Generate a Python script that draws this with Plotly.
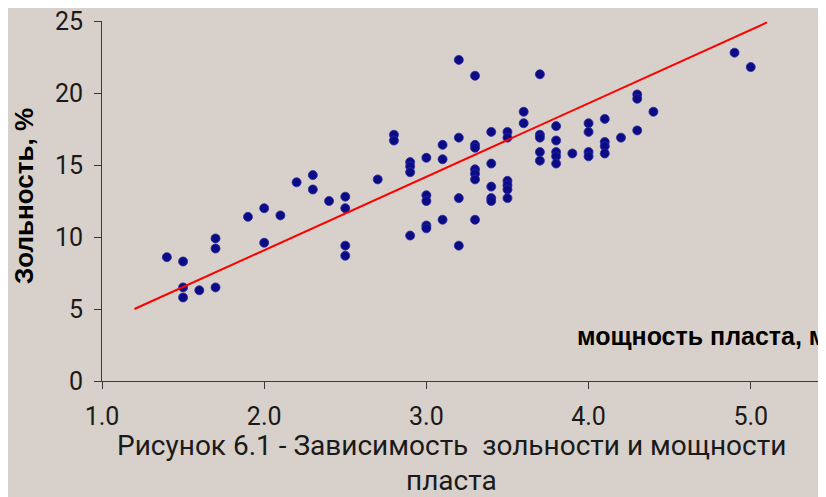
import plotly.graph_objects as go

# thickness (m) per column and ash content (%) values
thickness = (
    [1.4] + [1.5] * 3 + [1.6] + [1.7] * 3 + [1.9] + [2.0] * 2 + [2.1] + [2.2] + [2.3] * 2 + [2.4]
    + [2.5] * 4 + [2.7] + [2.8] * 2 + [2.9] * 4 + [3.0] * 5 + [3.1] * 3 + [3.2] * 4 + [3.3] * 7
    + [3.4] * 5 + [3.5] * 6 + [3.6] * 2 + [3.7] * 5 + [3.8] * 5 + [3.9] + [4.0] * 4 + [4.1] * 4
    + [4.2] + [4.3] * 3 + [4.4] + [4.9] + [5.0]
)
ash = [
    8.6,
    8.3, 6.5, 5.8,
    6.3,
    9.9, 9.2, 6.5,
    11.4,
    12.0, 9.6,
    11.5,
    13.8,
    14.3, 13.3,
    12.5,
    12.8, 12.0, 9.4, 8.7,
    14.0,
    17.1, 16.7,
    15.2, 14.9, 14.5, 10.1,
    15.5, 12.9, 12.5, 10.8, 10.6,
    16.4, 15.4, 11.2,
    22.3, 16.9, 12.7, 9.4,
    21.2, 16.4, 16.2, 14.7, 14.4, 14.0, 11.2,
    17.3, 15.1, 13.5, 12.7, 12.5,
    17.3, 16.9, 13.9, 13.6, 13.3, 12.7,
    18.7, 17.9,
    21.3, 17.1, 16.9, 15.9, 15.3,
    17.7, 16.7, 15.9, 15.6, 15.1,
    15.8,
    17.9, 17.3, 15.9, 15.6,
    18.2, 16.6, 16.3, 15.8,
    16.9,
    19.9, 19.6, 17.4,
    18.7,
    22.8,
    21.8,
]

trend_x = [1.2, 5.1]
trend_y = [5.0, 24.9]

x_ticks = [1.0, 2.0, 3.0, 4.0, 5.0]
y_ticks = [0, 5, 10, 15, 20, 25]

bg = "#D8D0CA"
axis_col = "#3a3a3a"

# page body has an 8px default margin; figure is sized to fill the rest
OFF = 8
FW, FH = 826 - OFF, 497 - OFF
L, T, W, H = 102 - OFF, 21 - OFF, 724, 360


def px(xp):
    return (xp - OFF - L) / W


def py(yp):
    return (T + H - (yp - OFF)) / H


fig = go.Figure()
fig.add_trace(go.Scatter(
    x=thickness, y=ash, mode="markers",
    marker=dict(size=9, color="#0B0B86", line=dict(width=0.8, color="#2a2aa0")),
    showlegend=False, cliponaxis=False,
))
fig.add_trace(go.Scatter(
    x=trend_x, y=trend_y, mode="lines",
    line=dict(color="#FF0000", width=2),
    showlegend=False,
))

fig.update_layout(
    width=FW, height=FH,
    margin=dict(l=L, r=FW - L - W, t=T, b=FH - T - H, autoexpand=False),
    paper_bgcolor=bg, plot_bgcolor=bg,
    font=dict(family="Roboto", color="#1a1a1a"),
    xaxis=dict(
        range=[1.0, 5.464], tickvals=x_ticks, ticktext=[f"{v:.1f}" for v in x_ticks],
        showgrid=False, zeroline=False, showline=True, linecolor=axis_col, linewidth=1,
        ticks="outside", ticklen=7, tickcolor=axis_col, tickwidth=1,
        tickfont=dict(family="Roboto", size=25, color="#1a1a1a"),
        ticklabelstandoff=6, automargin=False, ticklabeloverflow="allow",
    ),
    yaxis=dict(
        range=[0, 25], tickvals=y_ticks,
        showgrid=False, zeroline=False, showline=True, linecolor=axis_col, linewidth=1,
        ticks="outside", ticklen=7, tickcolor=axis_col, tickwidth=1,
        tickfont=dict(family="Roboto", size=25, color="#1a1a1a"),
        ticklabelstandoff=6, automargin=False, ticklabeloverflow="allow",
    ),
    annotations=[
        dict(text="<b>Зольность, %</b>", xref="paper", yref="paper",
             x=px(24), y=py(196), textangle=-90,
             showarrow=False, xanchor="center", yanchor="middle",
             font=dict(family="Liberation Sans", size=26, color="#000000")),
        dict(text="<b>мощность пласта, м</b>", xref="paper", yref="paper",
             x=px(575), y=py(336),
             showarrow=False, xanchor="left", yanchor="middle",
             font=dict(family="Liberation Sans", size=25, color="#000000")),
        dict(text="Рисунок 6.1 - Зависимость  зольности и мощности", xref="paper", yref="paper",
             x=px(451), y=py(445),
             showarrow=False, xanchor="center", yanchor="middle",
             font=dict(family="Roboto", size=28, color="#1a1a1a")),
        dict(text="пласта", xref="paper", yref="paper",
             x=px(451), y=py(481),
             showarrow=False, xanchor="center", yanchor="middle",
             font=dict(family="Roboto", size=28, color="#1a1a1a")),
    ],
)

fig.write_html("out.html")
